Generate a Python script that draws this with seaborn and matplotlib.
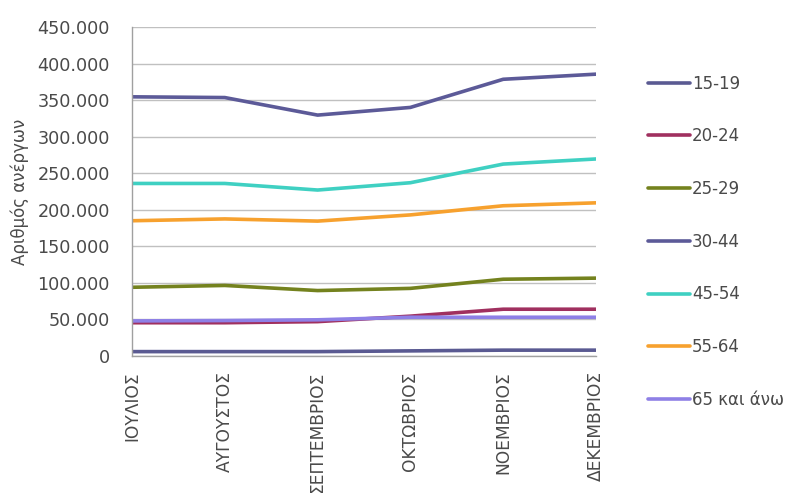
import matplotlib
matplotlib.use("Agg")
import matplotlib.pyplot as plt
import matplotlib.ticker as mticker
import seaborn as sns
import pandas as pd
from matplotlib.lines import Line2D

months = ["ΙΟΥΛΙΟΣ", "ΑΥΓΟΥΣΤΟΣ", "ΣΕΠΤΕΜΒΡΙΟΣ", "ΟΚΤΩΒΡΙΟΣ", "ΝΟΕΜΒΡΙΟΣ", "ΔΕΚΕΜΒΡΙΟΣ"]
groups = ["15-19", "20-24", "25-29", "30-44", "45-54", "55-64", "65 και άνω"]

v_15_19 = [6000, 6000, 6000, 7000, 8000, 8000]
v_20_24 = [45500, 45500, 47000, 54500, 64000, 64000]
v_25_29 = [94000, 96500, 89500, 92500, 105000, 106500]
v_30_44 = [354500, 353500, 329500, 340000, 378500, 385500]
v_45_54 = [236000, 236000, 227000, 237000, 262500, 269500]
v_55_64 = [185000, 187500, 184500, 193000, 205500, 209500]
v_65 = [48000, 48500, 49500, 53000, 53000, 53000]

series = [v_15_19, v_20_24, v_25_29, v_30_44, v_45_54, v_55_64, v_65]
colors = ["#5a5a92", "#a0305f", "#74821e", "#5c5a98", "#3fd0c2", "#f7a12e", "#8e80e6"]

rows = []
for g, vals in zip(groups, series):
    for i, v in enumerate(vals):
        rows.append({"month": i, "group": g, "value": v})
df = pd.DataFrame(rows)

sns.set_style("white")
plt.rcParams["font.family"] = ["DejaVu Sans"]

fig = plt.figure(figsize=(7.92, 4.93), dpi=100)
ax = fig.add_axes([132 / 792, 1 - 356 / 493, (596 - 132) / 792, (356 - 27) / 493])

sns.lineplot(data=df, x="month", y="value", hue="group", hue_order=groups,
             palette=dict(zip(groups, colors)), linewidth=2.6, ax=ax, legend=False)

ax.set_xlim(0, 5)
ax.set_ylim(0, 450000)
ax.yaxis.set_major_locator(mticker.MultipleLocator(50000))
ax.yaxis.set_major_formatter(mticker.FuncFormatter(
    lambda v, p: "0" if v == 0 else f"{int(v):,}".replace(",", ".")))
ax.set_xticks(range(len(months)))
ax.set_xticklabels(months, rotation=90, va="top", ha="center")
ax.grid(axis="y", color="#c0c0c0", linewidth=1.0)
ax.set_axisbelow(True)
for s in ["top", "right"]:
    ax.spines[s].set_visible(False)
for s in ["left", "bottom"]:
    ax.spines[s].set_color("#a0a0a0")
    ax.spines[s].set_linewidth(1.0)
ax.tick_params(axis="both", which="major", direction="out", length=5, width=1,
               color="#a0a0a0", labelcolor="#4a4a4a")
ax.tick_params(axis="y", labelsize=12.7, pad=11)
ax.tick_params(axis="x", pad=6, labelsize=12.3)
ax.set_xlabel("")
ax.set_ylabel("Αριθμός ανέργων", fontsize=12, color="#4a4a4a")
ax.yaxis.set_label_coords(-0.222, 0.5)

handles = [Line2D([], [], color=c, linewidth=2.6) for c in colors]
fig.legend(handles, groups, loc="upper left", bbox_to_anchor=(641 / 792, 1 - 68 / 493),
           frameon=False, fontsize=12, labelcolor="#4a4a4a",
           handlelength=2.55, handletextpad=0.1, labelspacing=2.08, borderaxespad=0)

fig.savefig("out.png", dpi=100)
